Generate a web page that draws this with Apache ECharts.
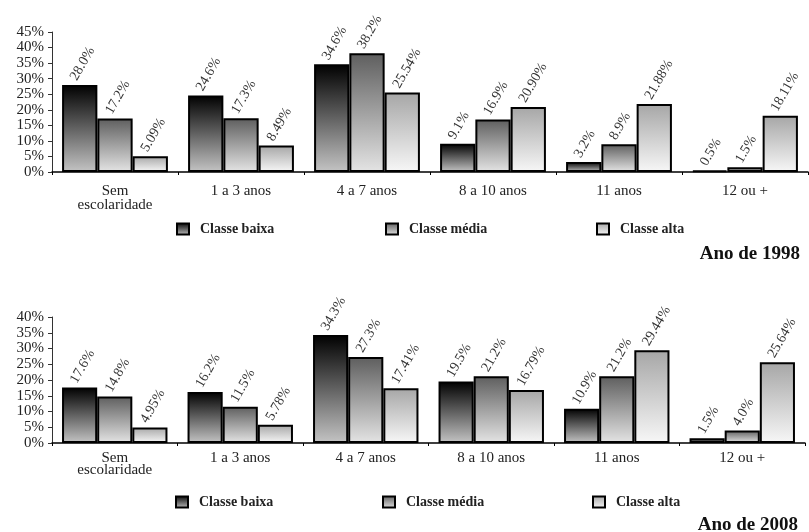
<!DOCTYPE html>
<html>
<head>
<meta charset="utf-8">
<script src="https://cdn.jsdelivr.net/npm/echarts@6/dist/echarts.min.js"></script>
<style>
  html, body { margin: 0; padding: 0; background: #fff; }
  #chart { width: 809px; height: 532px; }
</style>
</head>
<body>
<div id="chart"></div>
<script>
// Education level categories
const categories = ['Sem\nescolaridade', '1 a 3 anos', '4 a 7 anos', '8 a 10 anos', '11 anos', '12 ou +'];
const seriesNames = ['Classe baixa', 'Classe média', 'Classe alta'];

// 1998 shares (%)
const baixa1998 = [28.0, 24.6, 34.6, 9.1, 3.2, 0.5];
const media1998 = [17.2, 17.3, 38.2, 16.9, 8.9, 1.5];
const alta1998  = [5.09, 8.49, 25.54, 20.90, 21.88, 18.11];

// 2008 shares (%)
const baixa2008 = [17.6, 16.2, 34.3, 19.5, 10.9, 1.5];
const media2008 = [14.8, 11.5, 27.3, 21.2, 21.2, 4.0];
const alta2008  = [4.95, 5.78, 17.41, 16.79, 29.44, 25.64];

// decimals shown in the value labels per class
const labelDecimals = [1, 1, 2];

const SERIF = '"Liberation Serif", "DejaVu Serif", serif';

// vertical gradients: dark at the top, light at the base
const fills = [
  ['#000000', '#c4c4c4'],
  ['#5e5e5e', '#e4e4e4'],
  ['#a6a6a6', '#f7f7f7']
];
function grad(i) {
  return new echarts.graphic.LinearGradient(0, 0, 0, 1, [
    { offset: 0, color: fills[i][0] },
    { offset: 1, color: fills[i][1] }
  ]);
}

function barSeries(name, idx, data, axisIdx) {
  return {
    name: name,
    type: 'bar',
    xAxisIndex: axisIdx,
    yAxisIndex: axisIdx,
    data: data,
    barGap: '0%',
    barCategoryGap: '16%',
    itemStyle: { color: grad(idx), borderColor: '#000', borderWidth: 2 },
    label: {
      show: true,
      position: 'top',
      distance: 2,
      rotate: 60,
      align: 'left',
      verticalAlign: 'bottom',
      fontFamily: SERIF,
      fontSize: 14,
      color: '#333',
      formatter: p => p.value.toFixed(labelDecimals[idx]) + '%'
    },
    emphasis: { disabled: true }
  };
}

function xAxis(gridIndex, margin, lineHeight) {
  return {
    type: 'category',
    gridIndex: gridIndex,
    data: categories,
    axisLine: { lineStyle: { color: '#000', width: 1.5 } },
    axisTick: { show: true, length: 3, lineStyle: { color: '#000' } },
    axisLabel: {
      interval: 0, margin: margin, fontFamily: SERIF, fontSize: 15,
      color: '#222', lineHeight: lineHeight
    }
  };
}

function yAxis(gridIndex, max) {
  return {
    type: 'value',
    gridIndex: gridIndex,
    min: 0, max: max, interval: 5,
    splitLine: { show: false },
    axisLine: { show: true, lineStyle: { color: '#333', width: 1 } },
    axisTick: { show: true, length: 4, lineStyle: { color: '#333' } },
    axisLabel: {
      formatter: '{value}%', margin: 8, fontFamily: SERIF, fontSize: 15, color: '#222',
      showMinLabel: true, showMaxLabel: true
    }
  };
}

function legendItem(name, left, top) {
  return {
    data: [name],
    left: left, top: top,
    icon: 'rect',
    itemWidth: 12, itemHeight: 11,
    selectedMode: false,
    textStyle: {
      fontFamily: SERIF, fontSize: 14, fontWeight: 'bold', color: '#222',
      padding: [0, 0, 0, 6]
    }
  };
}

const chart = echarts.init(document.getElementById('chart'), null, { renderer: 'canvas' });
chart.setOption({
  animation: false,
  backgroundColor: '#fff',
  title: [
    { text: 'Ano de 1998', right: 4, top: 240,
      textStyle: { fontFamily: SERIF, fontSize: 19, fontWeight: 'bold', color: '#111' } },
    { text: 'Ano de 2008', right: 6, top: 511,
      textStyle: { fontFamily: SERIF, fontSize: 19, fontWeight: 'bold', color: '#111' } }
  ],
  legend: [
    legendItem(seriesNames[0], 171, 217),
    legendItem(seriesNames[1], 380, 217),
    legendItem(seriesNames[2], 591, 217),
    legendItem(seriesNames[0], 170, 490),
    legendItem(seriesNames[1], 377, 490),
    legendItem(seriesNames[2], 587, 490)
  ],
  grid: [
    { left: 52, right: 1, top: 32, height: 140 },
    { left: 52, right: 4, top: 317, height: 126 }
  ],
  xAxis: [xAxis(0, 12, 14), xAxis(1, 9, 12)],
  yAxis: [yAxis(0, 45), yAxis(1, 40)],
  series: [
    barSeries(seriesNames[0], 0, baixa1998, 0),
    barSeries(seriesNames[1], 1, media1998, 0),
    barSeries(seriesNames[2], 2, alta1998, 0),
    barSeries(seriesNames[0], 0, baixa2008, 1),
    barSeries(seriesNames[1], 1, media2008, 1),
    barSeries(seriesNames[2], 2, alta2008, 1)
  ]
});
</script>
</body>
</html>
